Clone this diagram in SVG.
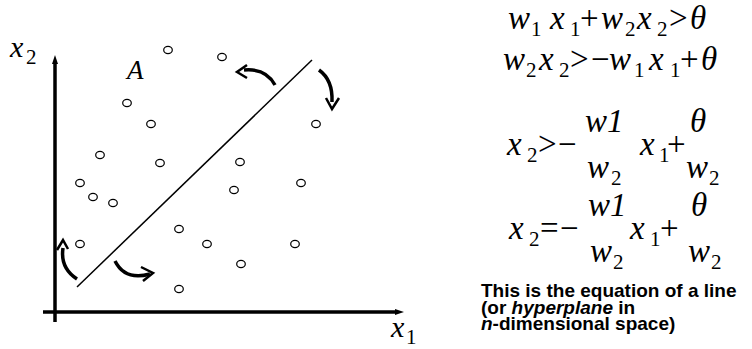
<svg xmlns="http://www.w3.org/2000/svg" width="752" height="349" viewBox="0 0 752 349">
<style>
.m{font-family:"Liberation Serif","Times New Roman",serif;font-style:italic;font-size:33px;fill:#000}
.u{font-family:"Liberation Serif","Times New Roman",serif;font-size:33px;fill:#000}
.s{font-family:"Liberation Serif","Times New Roman",serif;font-size:21px;fill:#000}
.pt{fill:#fff;stroke:#000;stroke-width:1.2}
.ax{stroke:#000;stroke-width:3.5;fill:none}
.cv{stroke:#000;stroke-width:3.5;fill:none;stroke-linecap:butt}
.hd{stroke:#000;stroke-width:2.5;fill:none;stroke-linejoin:miter}
.t{font-family:"Liberation Sans",Arial,sans-serif;font-weight:bold;font-size:19px;fill:#000}
</style>
<rect width="752" height="349" fill="#fff"/>
<g id="axes">
<line class="ax" x1="55" y1="322" x2="55" y2="62"/>
<polygon points="55,55 52,64 58,64" fill="#000"/>
<line class="ax" x1="43" y1="312" x2="397" y2="312"/>
<polygon points="404,312 395,309 395,315" fill="#000"/>
<text class="m" x="10" y="57" style="font-size:30px">x</text><text class="s" x="26" y="64">2</text>
<text class="m" x="391" y="337" style="font-size:30px">x</text><text class="s" x="406" y="344">1</text>
<text class="m" x="127" y="79" style="font-size:27px">A</text>
</g>
<g id="points">
<ellipse class="pt" cx="168" cy="50" rx="4.3" ry="3.6"/>
<ellipse class="pt" cx="222" cy="57" rx="4.3" ry="3.6"/>
<ellipse class="pt" cx="127" cy="103" rx="4.3" ry="3.6"/>
<ellipse class="pt" cx="151" cy="124" rx="4.3" ry="3.6"/>
<ellipse class="pt" cx="316" cy="124" rx="4.3" ry="3.6"/>
<ellipse class="pt" cx="100" cy="155" rx="4.3" ry="3.6"/>
<ellipse class="pt" cx="160" cy="163" rx="4.3" ry="3.6"/>
<ellipse class="pt" cx="240" cy="162" rx="4.3" ry="3.6"/>
<ellipse class="pt" cx="80" cy="183" rx="4.3" ry="3.6"/>
<ellipse class="pt" cx="301" cy="183" rx="4.3" ry="3.6"/>
<ellipse class="pt" cx="93" cy="197" rx="4.3" ry="3.6"/>
<ellipse class="pt" cx="234" cy="190" rx="4.3" ry="3.6"/>
<ellipse class="pt" cx="113" cy="203" rx="4.3" ry="3.6"/>
<ellipse class="pt" cx="179" cy="229" rx="4.3" ry="3.6"/>
<ellipse class="pt" cx="80" cy="244" rx="4.3" ry="3.6"/>
<ellipse class="pt" cx="207" cy="244" rx="4.3" ry="3.6"/>
<ellipse class="pt" cx="295" cy="244" rx="4.3" ry="3.6"/>
<ellipse class="pt" cx="241" cy="264" rx="4.3" ry="3.6"/>
<ellipse class="pt" cx="179" cy="289" rx="4.3" ry="3.6"/>
</g>
<g id="connectors">
<line x1="77" y1="287" x2="312" y2="60" stroke="#000" stroke-width="1.5"/>
<path class="cv" d="M275,85 Q266,68 244,70"/>
<polyline class="hd" points="247,65 237,72 247,78"/>
<path class="cv" d="M319,70 Q333,80 332,102"/>
<polyline class="hd" points="326,98 332,109 339,98"/>
<path class="cv" d="M77,279 Q60,268 63,248"/>
<polyline class="hd" points="57,250 63,240 68,249"/>
<path class="cv" d="M115,261 Q125,281 150,274"/>
<polyline class="hd" points="141,267 153,273 143,281"/>
</g>
<g id="eq1">
<text class="m" x="508" y="29">w</text><text class="s" x="531" y="36">1</text>
<text class="m" x="550" y="29">x</text><text class="s" x="570" y="36">1</text>
<text class="u" x="580" y="29">+</text>
<text class="m" x="601" y="29">w</text><text class="s" x="625" y="36">2</text>
<text class="m" x="637" y="29">x</text><text class="s" x="657" y="36">2</text>
<text class="u" x="669" y="29">&gt;</text>
<text class="m" x="690" y="29">θ</text>
</g>
<g id="eq2">
<text class="m" x="503" y="70">w</text><text class="s" x="526" y="77">2</text>
<text class="m" x="539" y="70">x</text><text class="s" x="559" y="77">2</text>
<text class="u" x="570" y="70">&gt;</text>
<text class="u" x="591" y="70">−</text>
<text class="m" x="609" y="70">w</text><text class="s" x="634" y="77">1</text>
<text class="m" x="649" y="70">x</text><text class="s" x="670" y="77">1</text>
<text class="u" x="680" y="70">+</text>
<text class="m" x="701" y="70">θ</text>
</g>
<g id="eq3">
<text class="m" x="507" y="155">x</text><text class="s" x="527" y="162">2</text>
<text class="u" x="538" y="155">&gt;</text>
<text class="u" x="558" y="155">−</text>
<text class="m" x="585" y="132">w1</text>
<text class="m" x="587" y="178">w</text><text class="s" x="611" y="185">2</text>
<text class="m" x="640" y="155">x</text><text class="s" x="659" y="162">1</text>
<text class="u" x="667" y="155">+</text>
<text class="m" x="690" y="132">θ</text>
<text class="m" x="686" y="178">w</text><text class="s" x="709" y="185">2</text>
</g>
<g id="eq4">
<text class="m" x="509" y="239">x</text><text class="s" x="529" y="246">2</text>
<text class="u" x="540" y="239">=</text>
<text class="u" x="560" y="239">−</text>
<text class="m" x="588" y="216">w1</text>
<text class="m" x="590" y="262">w</text><text class="s" x="613" y="269">2</text>
<text class="m" x="630" y="239">x</text><text class="s" x="650" y="246">1</text>
<text class="u" x="660" y="239">+</text>
<text class="m" x="691" y="216">θ</text>
<text class="m" x="688" y="262">w</text><text class="s" x="711" y="269">2</text>
</g>
<g id="note">
<text class="t" x="481" y="297">This is the equation of a line</text>
<text class="t" x="481" y="313.5">(or <tspan font-style="italic">hyperplane</tspan> in</text>
<text class="t" x="481" y="330">
<tspan font-style="italic">n</tspan>-dimensional space)</text>
</g>
</svg>
